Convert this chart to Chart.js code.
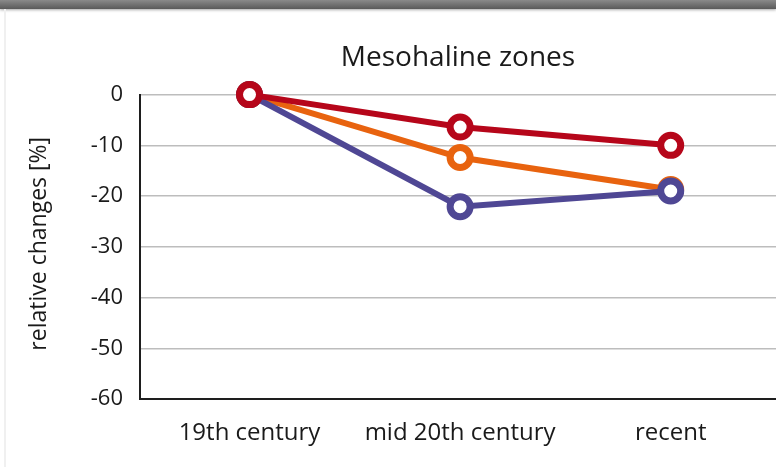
<!DOCTYPE html>
<html>
<head>
<meta charset="utf-8">
<script src="https://cdn.jsdelivr.net/npm/chart.js@4.4.0/dist/chart.umd.min.js"></script>
<style>
  html, body { margin: 0; padding: 0; background: #fff; }
  #wrap { position: relative; width: 776px; height: 467px; overflow: hidden; }
  #topbar { position: absolute; left: 0; top: 0; width: 776px; height: 9px;
    background: linear-gradient(#8a8a8a, #5a5a5a); box-shadow: 0 1px 3px rgba(0,0,0,0.35); z-index: 2; }
  #leftline { position: absolute; left: 4px; top: 9px; width: 2px; height: 458px; background: #f0f0f0; z-index: 2; }
  canvas { position: absolute; left: 0; top: 0; }
</style>
</head>
<body>
<div id="wrap">
  <div id="topbar"></div>
  <div id="leftline"></div>
  <canvas id="c" width="776" height="467"></canvas>
</div>
<script>
const categories = ["19th century", "mid 20th century", "recent"];
const seriesRed = [0, -6.4, -10.0];
const seriesPurple = [0, -22.1, -19.0];
const seriesOrange = [0, -12.4, -18.7];
const yTicks = [0, -10, -20, -30, -40, -50, -60];
const chartTitle = "Mesohaline zones";
const yAxisTitle = "relative changes [%]";

const FONT = "'Open Sans', 'Noto Sans', sans-serif";

function toXY(arr) { return arr.map((v, i) => ({ x: i, y: v })); }

const yTitlePlugin = {
  id: 'yTitle',
  afterDraw(chart) {
    const ctx = chart.ctx;
    const ca = chart.chartArea;
    ctx.save();
    ctx.font = "23px " + FONT;
    ctx.fillStyle = '#1a1a1a';
    ctx.textAlign = 'center';
    ctx.textBaseline = 'middle';
    ctx.translate(39, (ca.top + ca.bottom) / 2 - 3);
    ctx.rotate(-Math.PI / 2);
    ctx.fillText(yAxisTitle, 0, 0);
    ctx.restore();
  }
};

function ds(label, data, color) {
  return {
    label, data: toXY(data),
    borderColor: color, backgroundColor: '#ffffff',
    borderWidth: 6,
    pointRadius: 10, pointHoverRadius: 10,
    pointBorderWidth: 7, pointHoverBorderWidth: 7,
    pointBackgroundColor: '#ffffff', pointBorderColor: color,
    tension: 0, clip: false
  };
}

new Chart(document.getElementById('c'), {
  type: 'line',
  data: {
    datasets: [
      ds('red', seriesRed, '#b6061a'),
      ds('purple', seriesPurple, '#4f4794'),
      ds('orange', seriesOrange, '#e8630f')
    ]
  },
  plugins: [yTitlePlugin],
  options: {
    responsive: false,
    animation: false,
    events: [],
    layout: { autoPadding: false, padding: { left: 0, right: 0, top: 0, bottom: 0 } },
    plugins: {
      legend: { display: false },
      tooltip: { enabled: false },
      title: {
        display: true, text: chartTitle, fullSize: false,
        color: '#1a1a1a',
        font: { family: FONT, size: 28, weight: 'normal', lineHeight: 1.2 },
        padding: { top: 41, bottom: 20 }
      }
    },
    scales: {
      x: {
        type: 'linear', min: -0.52, max: 2.5,
        afterBuildTicks: (s) => { s.ticks = categories.map((c, i) => ({ value: i })); },
        afterFit: (s) => { s.height = 68; },
        grid: { display: true, drawOnChartArea: false, drawTicks: true, tickLength: 18, color: 'rgba(0,0,0,0)' },
        border: { display: true, color: '#1e1e1e', width: 2 },
        ticks: {
          callback: (v) => categories[v],
          color: '#1a1a1a', padding: 2, maxRotation: 0, autoSkip: false,
          font: { family: FONT, size: 24 }
        }
      },
      y: {
        min: -60, max: 0,
        afterBuildTicks: (s) => { s.ticks = yTicks.map(v => ({ value: v })); },
        afterFit: (s) => { s.width = 140; },
        grid: { color: '#bdbdbd', lineWidth: 1.5, drawTicks: false },
        border: { display: true, color: '#1e1e1e', width: 2 },
        ticks: {
          color: '#1a1a1a', padding: 17,
          font: { family: FONT, size: 22 }
        }
      }
    }
  }
});
</script>
</body>
</html>
